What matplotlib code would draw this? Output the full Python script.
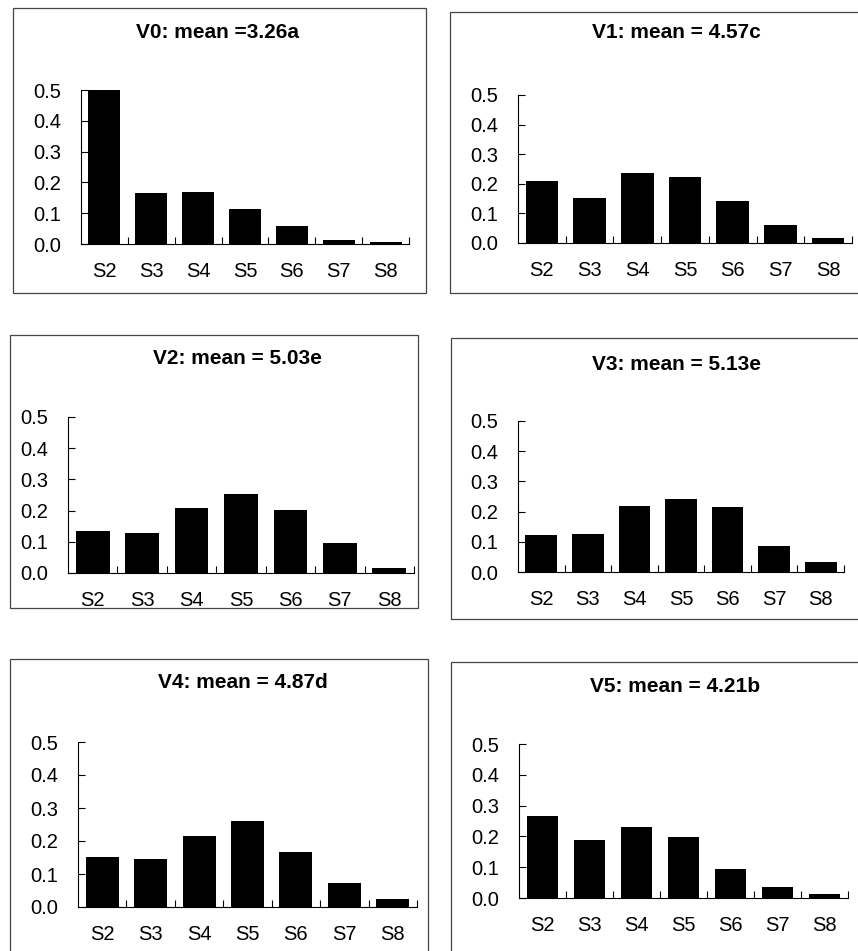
import matplotlib
matplotlib.use("Agg")
import matplotlib.pyplot as plt
from matplotlib.patches import Rectangle
from matplotlib.ticker import FormatStrFormatter

plt.rcParams['font.family'] = ['Liberation Sans', 'DejaVu Sans']

# Data
categories = ["S2", "S3", "S4", "S5", "S6", "S7", "S8"]
titles = ["V0: mean =3.26a", "V1: mean = 4.57c", "V2: mean = 5.03e",
          "V3: mean = 5.13e", "V4: mean = 4.87d", "V5: mean = 4.21b"]
v0 = [0.502, 0.167, 0.168, 0.114, 0.059, 0.014, 0.008]
v1 = [0.211, 0.153, 0.236, 0.222, 0.143, 0.062, 0.016]
v2 = [0.134, 0.128, 0.209, 0.253, 0.202, 0.097, 0.017]
v3 = [0.121, 0.125, 0.219, 0.243, 0.215, 0.085, 0.032]
v4 = [0.153, 0.144, 0.214, 0.260, 0.166, 0.073, 0.024]
v5 = [0.265, 0.187, 0.232, 0.198, 0.095, 0.037, 0.012]
series = [v0, v1, v2, v3, v4, v5]
yticks = [0.0, 0.1, 0.2, 0.3, 0.4, 0.5]

W, H = 858, 951
fig = plt.figure(figsize=(W / 100, H / 100), dpi=100)

# layout in pixels: axes (x_left, x_right, y_zero, y_top), box (l, t, r, b), title (x, y)
axes_px = [(81, 409, 244, 90), (518, 852, 243, 95),
           (68, 414, 573, 417), (518, 844, 572, 421),
           (78, 417, 907, 742), (519, 848, 898, 744)]
box_px = [(13, 8, 426, 293), (450, 12, 880, 293),
          (10, 335, 418, 608), (451, 338, 880, 619),
          (10, 659, 428, 970), (451, 662, 880, 970)]
title_px = [(218, 32), (676, 32), (237, 358), (676, 365), (243, 683), (675, 687)]

for (l, t, r, b) in box_px:
    fig.patches.append(Rectangle((l / W, 1 - b / H), (r - l) / W, (b - t) / H,
                                 transform=fig.transFigure, fill=False,
                                 edgecolor='#444444', linewidth=0.9))

for vals, title, (xl, xr, y0, y5), (tx, ty) in zip(series, titles, axes_px, title_px):
    ax = fig.add_axes([xl / W, 1 - y0 / H, (xr - xl) / W, (y0 - y5) / H])
    x = range(len(categories))
    ax.bar(x, vals, width=0.68, color='black')
    ax.set_xlim(-0.5, 6.5)
    ax.set_ylim(0, 0.5)
    ax.set_yticks(yticks)
    ax.yaxis.set_major_formatter(FormatStrFormatter('%.1f'))
    ax.set_xticks(list(x))
    ax.set_xticklabels(categories)
    ax.set_xticks([i + 0.5 for i in x], minor=True)
    ax.tick_params(axis='x', which='major', length=0, pad=13, labelsize=14.5)
    ax.tick_params(axis='x', which='minor', direction='in', length=5, width=0.8)
    ax.tick_params(axis='y', direction='in', length=5, width=0.8, pad=14, labelsize=14.5)
    for s in ['top', 'right']:
        ax.spines[s].set_visible(False)
    for s in ['left', 'bottom']:
        ax.spines[s].set_linewidth(0.8)
    ax.patch.set_alpha(0)
    fig.text(tx / W, 1 - ty / H, title, ha='center', va='center',
             fontsize=15, fontweight='bold')

fig.savefig("out.png", dpi=100)
